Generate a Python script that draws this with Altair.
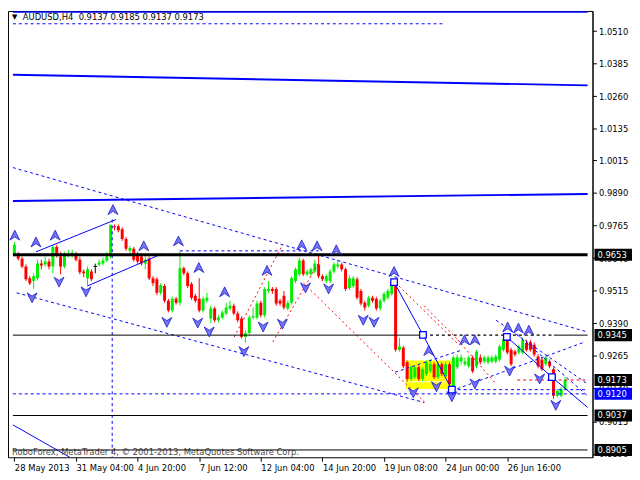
import altair as alt
import pandas as pd

# ---------------- data (AUDUSD H4) ----------------
opens = [0.9653, 0.9653, 0.9638, 0.9608, 0.9563, 0.9552, 0.9563, 0.9619, 0.9616, 0.9627,
         0.9608, 0.9683, 0.9646, 0.9608, 0.9653, 0.9653, 0.9653, 0.9634, 0.9589, 0.9563,
         0.9589, 0.9608, 0.9616, 0.9619, 0.9631, 0.9646, 0.9762, 0.9762, 0.9751, 0.9713,
         0.9668, 0.9676, 0.9657, 0.9646, 0.9619, 0.9638, 0.9563, 0.9559, 0.9507, 0.9533,
         0.9477, 0.9439, 0.9484, 0.9469, 0.9601, 0.9582, 0.9541, 0.9496, 0.9484, 0.9439,
         0.9477, 0.9409, 0.9447, 0.9402, 0.9413, 0.9428, 0.9447, 0.9458, 0.9428, 0.9409,
         0.9338, 0.9353, 0.9413, 0.9413, 0.9469, 0.9421, 0.9514, 0.9522, 0.9522, 0.9477,
         0.9496, 0.9447, 0.9469, 0.9552, 0.9578, 0.9631, 0.9578, 0.9578, 0.9589, 0.9616,
         0.9571, 0.9552, 0.9552, 0.9589, 0.9608, 0.9616, 0.9597, 0.9526, 0.9533, 0.9559,
         0.9514, 0.9469, 0.9458, 0.9488, 0.9484, 0.9447, 0.9477, 0.9488, 0.9503, 0.9544,
         0.9289, 0.9297, 0.9241, 0.9177, 0.9184, 0.9222, 0.9177, 0.9196, 0.9207, 0.9233,
         0.9184, 0.9233, 0.9188, 0.9233, 0.9147, 0.9222, 0.9244, 0.9233, 0.9226, 0.9259,
         0.9226, 0.9259, 0.9244, 0.9241, 0.9244, 0.9244, 0.9252, 0.9289, 0.9327, 0.9289,
         0.9282, 0.9278, 0.9278, 0.9316, 0.9319, 0.9308, 0.9263, 0.9252, 0.9233, 0.9244,
         0.9214, 0.9113, 0.9113, 0.9137]
closes = [0.9691, 0.9638, 0.9608, 0.9559, 0.9544, 0.9571, 0.9619, 0.9612, 0.9627, 0.9608,
          0.9683, 0.9653, 0.9608, 0.9653, 0.9657, 0.9661, 0.9634, 0.9586, 0.9582, 0.9597,
          0.9559, 0.9608, 0.9623, 0.9631, 0.9646, 0.9766, 0.9758, 0.9747, 0.9713, 0.9676,
          0.9679, 0.9634, 0.9627, 0.9619, 0.9634, 0.9563, 0.9544, 0.9507, 0.9537, 0.9477,
          0.9439, 0.9484, 0.9469, 0.9601, 0.9582, 0.9533, 0.9488, 0.9477, 0.9439, 0.9484,
          0.9488, 0.9447, 0.9402, 0.9413, 0.9432, 0.9451, 0.9458, 0.9428, 0.9402, 0.9338,
          0.9353, 0.9413, 0.9417, 0.9466, 0.9421, 0.9522, 0.9522, 0.9514, 0.9466, 0.9466,
          0.9451, 0.9469, 0.9563, 0.9597, 0.9631, 0.9578, 0.9589, 0.9597, 0.9619, 0.9571,
          0.9559, 0.9571, 0.9589, 0.9616, 0.9616, 0.9597, 0.9522, 0.9563, 0.9563, 0.9488,
          0.9466, 0.9451, 0.9488, 0.9477, 0.9447, 0.9477, 0.9503, 0.9514, 0.9544, 0.9289,
          0.9301, 0.9226, 0.9177, 0.9222, 0.9222, 0.9177, 0.9214, 0.9241, 0.9233, 0.9184,
          0.9233, 0.9196, 0.9233, 0.9158, 0.9259, 0.9259, 0.9259, 0.9244, 0.9259, 0.9207,
          0.9282, 0.9241, 0.9259, 0.9259, 0.9259, 0.9263, 0.9301, 0.9327, 0.9278, 0.9233,
          0.9271, 0.9301, 0.9327, 0.9289, 0.9289, 0.9271, 0.9226, 0.9214, 0.9259, 0.9226,
          0.9113, 0.9132, 0.9139, 0.9173]
highs = [0.9702, 0.9664, 0.9646, 0.9616, 0.9571, 0.9582, 0.9634, 0.9634, 0.9646, 0.9638,
         0.9687, 0.9691, 0.9664, 0.9664, 0.9672, 0.9672, 0.9664, 0.9646, 0.9597, 0.9608,
         0.9597, 0.9619, 0.9634, 0.9642, 0.9664, 0.9769, 0.9769, 0.9769, 0.9758, 0.9721,
         0.9687, 0.9683, 0.9664, 0.9657, 0.9646, 0.9646, 0.9571, 0.9567, 0.9544, 0.9541,
         0.9484, 0.9492, 0.9492, 0.9668, 0.9608, 0.9589, 0.9548, 0.9503, 0.9563, 0.9492,
         0.9507, 0.9458, 0.9454, 0.9421, 0.9439, 0.9469, 0.9477, 0.9466, 0.9436, 0.9417,
         0.9364, 0.9421, 0.9451, 0.9477, 0.9477, 0.9529, 0.9552, 0.9529, 0.9529, 0.9484,
         0.9514, 0.9477, 0.9571, 0.9604, 0.9642, 0.9638, 0.9597, 0.9604, 0.9634, 0.9653,
         0.9578, 0.9578, 0.9597, 0.9623, 0.9634, 0.9623, 0.9604, 0.9574, 0.9571, 0.9567,
         0.9522, 0.9477, 0.9496, 0.9496, 0.9492, 0.9484, 0.9511, 0.9522, 0.9552, 0.9559,
         0.9334, 0.9304, 0.9248, 0.9229, 0.9229, 0.9229, 0.9222, 0.9248, 0.9252, 0.9241,
         0.9244, 0.9241, 0.9244, 0.9241, 0.9267, 0.9271, 0.9271, 0.9259, 0.9267, 0.9267,
         0.9289, 0.9271, 0.9267, 0.9267, 0.9267, 0.9271, 0.9308, 0.9334, 0.9346, 0.9297,
         0.9289, 0.9308, 0.9334, 0.9327, 0.9327, 0.9316, 0.9271, 0.9259, 0.9267, 0.9252,
         0.9222, 0.9139, 0.9147, 0.9185]
lows = [0.9646, 0.9631, 0.9601, 0.9552, 0.9537, 0.9522, 0.9556, 0.9597, 0.9608, 0.9597,
        0.9582, 0.9642, 0.9578, 0.9601, 0.9642, 0.9642, 0.9627, 0.9578, 0.9567, 0.9537,
        0.9552, 0.9582, 0.9608, 0.9612, 0.9623, 0.9638, 0.9747, 0.9739, 0.9706, 0.9668,
        0.9657, 0.9627, 0.9619, 0.9612, 0.9597, 0.9556, 0.9533, 0.9499, 0.9499, 0.9469,
        0.9432, 0.9432, 0.9462, 0.9458, 0.9574, 0.9526, 0.9481, 0.9469, 0.9432, 0.9432,
        0.9469, 0.9391, 0.9394, 0.9394, 0.9406, 0.9421, 0.9439, 0.9421, 0.9394, 0.9331,
        0.9316, 0.9346, 0.9406, 0.9406, 0.9413, 0.9413, 0.9507, 0.9503, 0.9458, 0.9458,
        0.9443, 0.9439, 0.9462, 0.9544, 0.9571, 0.9571, 0.9571, 0.9571, 0.9582, 0.9563,
        0.9552, 0.9544, 0.9544, 0.9582, 0.9601, 0.9589, 0.9514, 0.9518, 0.9526, 0.9481,
        0.9458, 0.9439, 0.9451, 0.9469, 0.9439, 0.9439, 0.9469, 0.9481, 0.9496, 0.9282,
        0.9282, 0.9218, 0.9166, 0.9169, 0.9177, 0.9169, 0.9169, 0.9188, 0.9199, 0.9177,
        0.9177, 0.9188, 0.9181, 0.9147, 0.9132, 0.9214, 0.9233, 0.9226, 0.9218, 0.9199,
        0.9218, 0.9233, 0.9237, 0.9233, 0.9237, 0.9237, 0.9244, 0.9282, 0.9271, 0.9226,
        0.9263, 0.9271, 0.9271, 0.9282, 0.9282, 0.9263, 0.9218, 0.9207, 0.9226, 0.9218,
        0.9102, 0.9106, 0.9106, 0.9137]

tick_bars = [0, 16, 32, 48, 64, 80, 96, 112, 128]
tick_labels = ["28 May 2013", "31 May 04:00", "4 Jun 20:00", "7 Jun 12:00", "12 Jun 04:00",
               "14 Jun 20:00", "19 Jun 08:00", "24 Jun 00:00", "26 Jun 16:00"]
price_ticks = [1.0510, 1.0385, 1.0260, 1.0135, 1.0015, 0.9890, 0.9765, 0.9640, 0.9515,
               0.9390, 0.9265, 0.9140, 0.9015, 0.8890]

# fractal arrows (bar index, price)
up_bar = [0.1, 5.6, 10.6, 25.6, 33.6, 42.6, 47.9, 54.6, 65.6, 74.6, 78.6, 83.6, 98.6,
          107.6, 116.9, 119.6, 128.1, 130.9, 133.6]
up_price = [0.9728, 0.9702, 0.9728, 0.9826, 0.9687, 0.9706, 0.9604, 0.9511, 0.9593, 0.9691,
            0.9687, 0.9672, 0.9589, 0.9286, 0.9327, 0.9327, 0.9376, 0.9372, 0.9364]
down_bar = [4.6, 11.6, 18.6, 39.6, 47.6, 50.6, 59.6, 64.6, 69.6, 75.6, 81.6, 90.6, 93.4,
            103.6, 109.6, 113.6, 119.6, 128.6, 136.4, 140.6]
down_price = [0.9488, 0.9548, 0.9511, 0.9394, 0.9391, 0.9357, 0.9282, 0.9376, 0.9387, 0.9526,
              0.9522, 0.9402, 0.9394, 0.9124, 0.9147, 0.9109, 0.9158, 0.9207, 0.9177, 0.9076]

# line objects: (bar1, price1, bar2, price2)
blue_top = [(-0.375, 1.0583, 148.85, 1.0583)]
blue_thick = [(-0.375, 1.0343, 148.85, 1.0302), (-0.375, 0.9859, 148.85, 0.9886)]
blue_thin = [(5.6, 0.9664, 26.4, 0.9788), (18.9, 0.9533, 38.4, 0.9657), (-0.375, 0.9001, 14.4, 0.8877),
             (98.6, 0.9548, 106.1, 0.9346), (106.1, 0.9346, 113.6, 0.9136),
             (127.9, 0.9338, 139.6, 0.9184), (139.6, 0.9184, 148.85, 0.9068)]
blue_dash = [(-0.375, 1.0538, 111.4, 1.0538), (-0.375, 0.9987, 148.85, 0.9357),
             (0.6, 0.9507, 106.4, 0.9087), (25.4, 0.9788, 25.4, 0.8877),
             (43.0, 0.9668, 79.0, 0.9668), (-0.375, 0.9120, 148.85, 0.9120),
             (113.6, 0.9132, 147.6, 0.9316), (98.9, 0.9203, 116.4, 0.9289),
             (125.1, 0.9402, 148.85, 0.9158), (130.6, 0.9346, 148.85, 0.9113),
             (113.6, 0.9136, 148.85, 0.9136)]
red_dot = [(57.1, 0.9338, 69.6, 0.9691), (67.1, 0.9319, 78.9, 0.9619), (75.1, 0.9544, 106.9, 0.9083),
           (99.9, 0.9533, 115.4, 0.9308), (106.4, 0.9458, 116.4, 0.9308), (115.1, 0.9327, 125.1, 0.9158)]
red_dash = [(130.6, 0.9173, 148.85, 0.9173)]
black_thick = [(-0.375, 0.9653, 148.85, 0.9653)]
black_thin = [(-0.375, 0.9345, 106.4, 0.9345), (140.1, 0.9345, 148.85, 0.9345),
              (-0.375, 0.9037, 148.85, 0.9037), (-0.375, 0.8905, 148.85, 0.8905)]
black_dash = [(106.4, 0.9345, 140.1, 0.9345)]
white_line = [(102.1, 0.9166, 112.1, 0.9166)]
yellow_box = [(101.6, 0.9248, 113.9, 0.9139)]
square_bar = [98.6, 106.1, 113.6, 127.9, 139.6]
square_price = [0.9548, 0.9346, 0.9136, 0.9338, 0.9184]

box_prices = [0.9653, 0.9345, 0.9173, 0.9120, 0.9037, 0.8905]
box_colors = ["#000000", "#000000", "#000000", "#0000ff", "#000000", "#000000"]

title_text = "AUDUSD,H4\u00a0\u00a00.9137 0.9185 0.9137 0.9173"
copyright_text = "RoboForex, MetaTrader 4, \u00a9 2001-2013, MetaQuotes Software Corp."

# ---------------- chart ----------------
W, H = 592, 452
XD = [-0.375, 148.85]
YD = [0.8877, 1.0587]
FONT = "DejaVu Sans"
FS = 8.5

xs = alt.Scale(domain=XD, nice=False, zero=False)
ys = alt.Scale(domain=YD, nice=False, zero=False)

label_expr = "[" + ",".join("'%s'" % s for s in tick_labels) + "][round(datum.value / 16)]"

xaxis = alt.Axis(values=tick_bars, labelExpr=label_expr, orient="bottom", grid=False, domain=False,
                 ticks=True, tickSize=4, tickColor="black", labelAlign="left", labelBaseline="top",
                 labelPadding=2, labelFont=FONT, labelFontSize=FS, labelColor="black", title=None,
                 labelOverlap=False, labelFlush=False, labelBound=False)
yaxis = alt.Axis(orient="right", values=price_ticks, format=".4f", grid=False, domain=True,
                 domainColor="black", ticks=True, tickSize=4, tickColor="black", labelPadding=2,
                 labelFont=FONT, labelFontSize=FS, labelColor="black", title=None,
                 labelOverlap=False, labelFlush=False, labelBound=False)


def X(f):
    return alt.X(f, scale=xs, axis=xaxis)


def Y(f):
    return alt.Y(f, scale=ys, axis=yaxis)


n = len(opens)
bars = pd.DataFrame({"i": list(range(n)), "o": opens, "h": highs, "l": lows, "c": closes})
bars["dir"] = ["up" if c > o else ("down" if c < o else "flat") for o, c in zip(opens, closes)]
flat = bars[bars["dir"] == "flat"].copy()
flat["a"] = flat["i"] - 0.45
flat["b"] = flat["i"] + 0.45

cscale = alt.Scale(domain=["up", "down", "flat"], range=["#00ee00", "#ff0000", "#000000"])


def segs(rows):
    return pd.DataFrame(rows, columns=["x1", "y1", "x2", "y2"])


def seg_layer(rows, color, width=1.0, dash=None):
    kw = dict(color=color, strokeWidth=width, clip=True)
    if dash:
        kw["strokeDash"] = dash
    return alt.Chart(segs(rows)).mark_rule(**kw).encode(
        x=X("x1:Q"), y=Y("y1:Q"), x2="x2:Q", y2="y2:Q")


yellow = alt.Chart(segs(yellow_box)).mark_rect(color="#ffff00", clip=True).encode(
    x=X("x1:Q"), y=Y("y1:Q"), x2="x2:Q", y2="y2:Q")

wicks = alt.Chart(bars).mark_rule(strokeWidth=1, clip=True).encode(
    x=X("i:Q"), y=Y("l:Q"), y2="h:Q",
    color=alt.Color("dir:N", scale=cscale, legend=None))
bodies = alt.Chart(bars).mark_bar(size=3, clip=True).encode(
    x=X("i:Q"), y=Y("o:Q"), y2="c:Q",
    color=alt.Color("dir:N", scale=cscale, legend=None))
doji = alt.Chart(flat).mark_rule(color="black", strokeWidth=1, clip=True).encode(
    x=X("a:Q"), x2="b:Q", y=Y("o:Q"))

UP = "M0,-1 L1,1 L0,0.35 L-1,1 Z"
DOWN = "M0,1 L1,-1 L0,-0.35 L-1,-1 Z"
arrow_style = dict(filled=True, size=100, fill="#7474f4", stroke="#1a1ac8", strokeWidth=0.8,
                   opacity=1, clip=True)
ups = alt.Chart(pd.DataFrame({"b": up_bar, "p": up_price})).mark_point(
    shape=UP, **arrow_style).encode(x=X("b:Q"), y=Y("p:Q"))
downs = alt.Chart(pd.DataFrame({"b": down_bar, "p": down_price})).mark_point(
    shape=DOWN, **arrow_style).encode(x=X("b:Q"), y=Y("p:Q"))
squares = alt.Chart(pd.DataFrame({"b": square_bar, "p": square_price})).mark_point(
    shape="square", filled=True, size=45, fill="white", stroke="#0000ff", strokeWidth=1.3,
    opacity=1).encode(x=X("b:Q"), y=Y("p:Q"))

BOX = "M-1,-0.32 L1,-0.32 L1,0.32 L-1,0.32 Z"
boxdf = pd.DataFrame({"p": box_prices, "bg": box_colors,
                      "t": ["%.4f" % v for v in box_prices]})
boxes = alt.Chart(boxdf).mark_point(shape=BOX, filled=True, size=1444, opacity=1,
                                    strokeWidth=0).encode(
    x=alt.value(W + 21), y=Y("p:Q"), color=alt.Color("bg:N", scale=None))
boxtext = alt.Chart(boxdf).mark_text(align="left", baseline="middle", font=FONT, fontSize=FS,
                                     color="white").encode(
    x=alt.value(W + 5), y=Y("p:Q"), text="t:N")

title = alt.Chart(pd.DataFrame({"t": [title_text]})).mark_text(
    align="left", baseline="middle", font=FONT, fontSize=FS, color="black").encode(
    x=alt.value(15), y=alt.value(6), text="t:N")
tri = alt.Chart(pd.DataFrame({"t": ["\u25bc"]})).mark_text(
    align="left", baseline="middle", font=FONT, fontSize=7, color="black").encode(
    x=alt.value(4), y=alt.value(6), text="t:N")
copyright = alt.Chart(pd.DataFrame({"t": [copyright_text]})).mark_text(
    align="left", baseline="middle", font=FONT, fontSize=FS, color="#4a4a4a").encode(
    x=alt.value(4), y=alt.value(447), text="t:N")

chart = alt.layer(
    yellow,
    wicks, bodies, doji,
    seg_layer(white_line, "white", 1),
    seg_layer(blue_top, "#0000ff", 1.5),
    seg_layer(blue_thick, "#0000ff", 2),
    seg_layer(blue_thin, "#0000ff", 1),
    seg_layer(blue_dash, "#0000ff", 1, [3, 3]),
    seg_layer(red_dot, "#ff0000", 1, [2, 3]),
    seg_layer(red_dash, "#ff0000", 1, [3, 3]),
    copyright,
    seg_layer(black_thick, "black", 3),
    seg_layer(black_thin, "black", 1),
    seg_layer(black_dash, "black", 1.5, [3, 3]),
    ups, downs, squares,
    boxes, boxtext, title, tri,
).properties(
    width=W, height=H,
    padding={"left": 0, "top": 0, "right": 40, "bottom": 20},
    autosize=alt.AutoSizeParams(type="none"),
    background="white",
).configure_view(stroke="black", strokeWidth=1).configure_axis(labelOverlap=False)

chart.save("out.html", embed_options={"renderer": "svg", "actions": False})
